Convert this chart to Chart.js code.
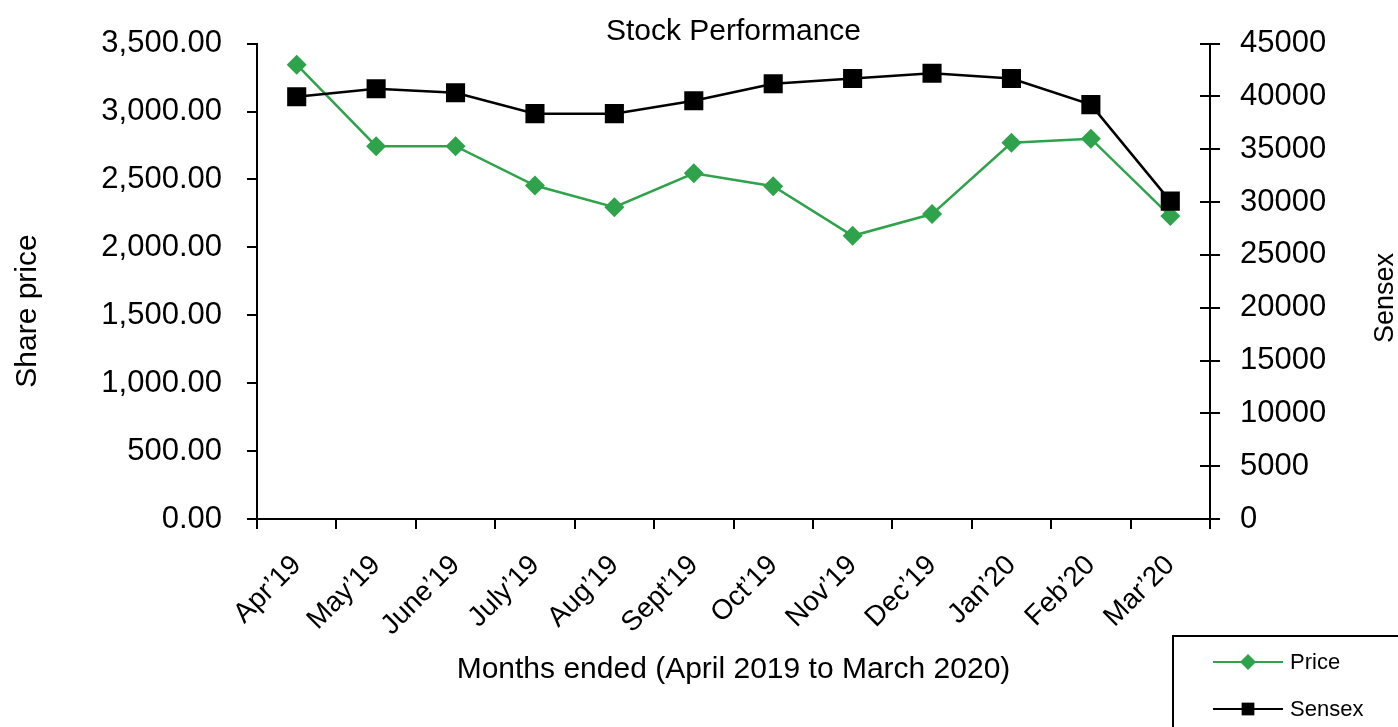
<!DOCTYPE html>
<html>
<head>
<meta charset="utf-8">
<title>Stock Performance</title>
<script src="https://cdn.jsdelivr.net/npm/chart.js@4.4.1/dist/chart.umd.min.js"></script>
<style>
  html, body { margin: 0; padding: 0; background: #fff; }
  #wrap { width: 1398px; height: 727px; }
</style>
</head>
<body>
<div id="wrap"><canvas id="stockChart" width="1398" height="727"></canvas></div>
<script>
const months = ["Apr’19", "May’19", "June’19", "July’19", "Aug’19", "Sept’19",
  "Oct’19", "Nov’19", "Dec’19", "Jan’20", "Feb’20", "Mar’20"];

// share price, left axis
const price = [3345, 2745, 2745, 2455, 2295, 2545, 2450, 2085, 2245, 2770, 2800, 2230];

// sensex close, right axis
const sensex = [39970, 40730, 40350, 38370, 38370, 39590, 41200, 41700, 42200, 41700, 39220, 30090];

const green = "rgb(46, 163, 75)";
const black = "#000";
const FONT = "'Liberation Sans', Arial, sans-serif";

Chart.defaults.font.family = FONT;
Chart.defaults.color = black;

// axis titles, right-axis inner ticks and the boxed legend
const extras = {
  id: "extras",
  afterDraw(chart) {
    const ctx = chart.ctx;
    const y2 = chart.scales.y2;
    ctx.save();

    ctx.strokeStyle = black;
    ctx.lineWidth = 2;
    y2.ticks.forEach((t) => {
      const py = Math.round(y2.getPixelForValue(t.value));
      ctx.beginPath();
      ctx.moveTo(y2.left - 10, py);
      ctx.lineTo(y2.left, py);
      ctx.stroke();
    });

    ctx.fillStyle = black;
    ctx.textAlign = "center";
    ctx.textBaseline = "middle";

    ctx.save();
    ctx.font = "30px " + FONT;
    ctx.translate(28, 311);
    ctx.rotate(-Math.PI / 2);
    ctx.fillText("Share price", 0, 0);
    ctx.restore();

    ctx.save();
    ctx.font = "27px " + FONT;
    ctx.translate(1386, 298);
    ctx.rotate(-Math.PI / 2);
    ctx.fillText("Sensex", 0, 0);
    ctx.restore();

    // legend box
    ctx.lineWidth = 2;
    ctx.strokeRect(1173, 636, 260, 120);
    ctx.font = "22px " + FONT;
    ctx.textAlign = "left";
    chart.data.datasets.forEach((ds, i) => {
      const ly = 662 + i * 47;
      ctx.strokeStyle = ds.borderColor;
      ctx.fillStyle = ds.backgroundColor;
      ctx.lineWidth = 2;
      ctx.beginPath();
      ctx.moveTo(1213, ly);
      ctx.lineTo(1283, ly);
      ctx.stroke();
      Chart.helpers.drawPoint(ctx, {
        pointStyle: ds.pointStyle,
        radius: ds.pointStyle === "rect" ? 9 : 8,
        rotation: 0,
        borderWidth: 0
      }, 1248, ly);
      ctx.fillStyle = black;
      ctx.fillText(ds.label, 1290, ly + 1);
    });

    ctx.restore();
  }
};

const data = {
  labels: months,
  datasets: [
    {
      label: "Price",
      data: price,
      yAxisID: "y",
      borderColor: green,
      backgroundColor: green,
      borderWidth: 2.5,
      pointStyle: "rectRot",
      pointRadius: 10,
      pointBorderWidth: 0,
      tension: 0,
      order: 1
    },
    {
      label: "Sensex",
      data: sensex,
      yAxisID: "y2",
      borderColor: black,
      backgroundColor: black,
      borderWidth: 2.5,
      pointStyle: "rect",
      pointRadius: 13.5,
      pointBorderWidth: 0,
      tension: 0,
      order: 0
    }
  ]
};

const axisGrid = { drawOnChartArea: false, color: black, lineWidth: 2, tickLength: 10 };

const config = {
  type: "line",
  data: data,
  options: {
    responsive: false,
    animation: false,
    layout: { padding: 0 },
    plugins: {
      legend: { display: false },
      tooltip: { enabled: false },
      title: {
        display: true,
        fullSize: false,
        text: "Stock Performance",
        color: black,
        font: { size: 30, weight: "normal" },
        padding: { top: 12, bottom: -6 }
      }
    },
    scales: {
      x: {
        offset: true,
        grid: { ...axisGrid, offset: true },
        border: { color: black, width: 2 },
        ticks: { color: black, font: { size: 28 }, minRotation: 45, maxRotation: 45, padding: 20 },
        title: {
          display: true,
          text: "Months ended (April 2019 to March 2020)",
          color: black,
          font: { size: 30 },
          padding: { top: 0, bottom: 39 }
        },
        afterFit(s) { s.height = 208; }
      },
      y: {
        position: "left",
        min: 0,
        max: 3500,
        grid: axisGrid,
        border: { color: black, width: 2 },
        ticks: {
          stepSize: 500,
          padding: 25,
          color: black,
          font: { size: 31 },
          callback: (v) => v.toLocaleString("en-US", { minimumFractionDigits: 2, maximumFractionDigits: 2 })
        },
        afterFit(s) { s.width = 257; }
      },
      y2: {
        position: "right",
        min: 0,
        max: 45000,
        grid: axisGrid,
        border: { color: black, width: 2 },
        ticks: {
          stepSize: 5000,
          padding: 20,
          color: black,
          font: { size: 31 },
          callback: (v) => String(v)
        },
        afterFit(s) { s.width = 188; }
      }
    }
  },
  plugins: [extras]
};

new Chart(document.getElementById("stockChart"), config);
</script>
</body>
</html>
